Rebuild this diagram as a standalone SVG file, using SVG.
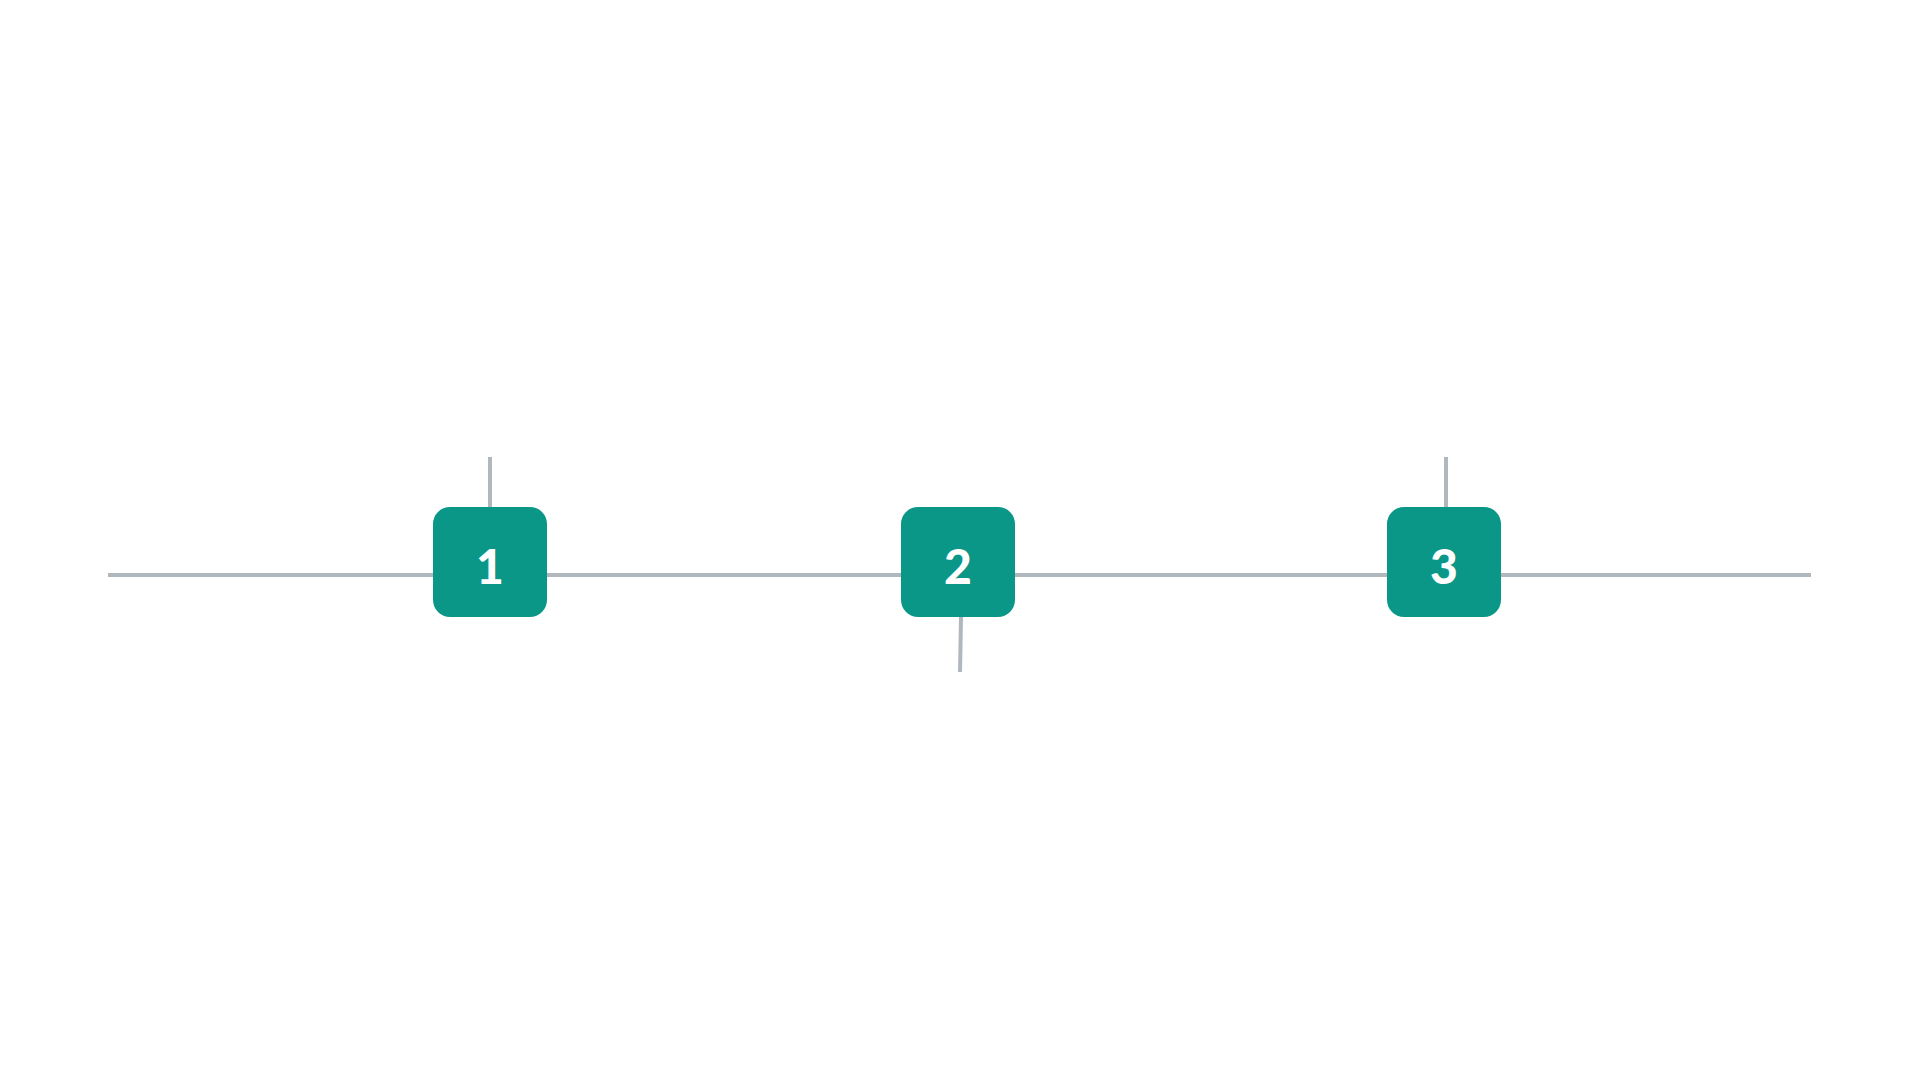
<svg xmlns="http://www.w3.org/2000/svg" width="1920" height="1080" viewBox="0 0 1920 1080">
<style>
.ln{stroke:#b1b8bd;stroke-width:4;fill:none}
.nd{fill:#0b9788}
.lb{font-family:Lato,"Open Sans",sans-serif;font-weight:900;font-size:48px;fill:#ffffff;text-anchor:middle}
</style>
<rect width="1920" height="1080" fill="#ffffff"/>
<g id="connectors">
<line class="ln" x1="108" y1="575" x2="433" y2="575"/>
<line class="ln" x1="547" y1="575" x2="901" y2="575"/>
<line class="ln" x1="1015" y1="575" x2="1387" y2="575"/>
<line class="ln" x1="1501" y1="575" x2="1811" y2="575"/>
<line class="ln" x1="490" y1="457" x2="490" y2="507"/>
<line class="ln" x1="961" y1="617" x2="960" y2="672"/>
<line class="ln" x1="1446" y1="457" x2="1446" y2="507"/>
</g>
<g id="node1">
<rect class="nd" x="433" y="507" width="114" height="110" rx="17"/>
<text class="lb" x="490" y="584" letter-spacing="0">1</text>
</g>
<g id="node2">
<rect class="nd" x="901" y="507" width="114" height="110" rx="17"/>
<text class="lb" x="958" y="584">2</text>
</g>
<g id="node3">
<rect class="nd" x="1387" y="507" width="114" height="110" rx="17"/>
<text class="lb" x="1444" y="584">3</text>
</g>
</svg>
